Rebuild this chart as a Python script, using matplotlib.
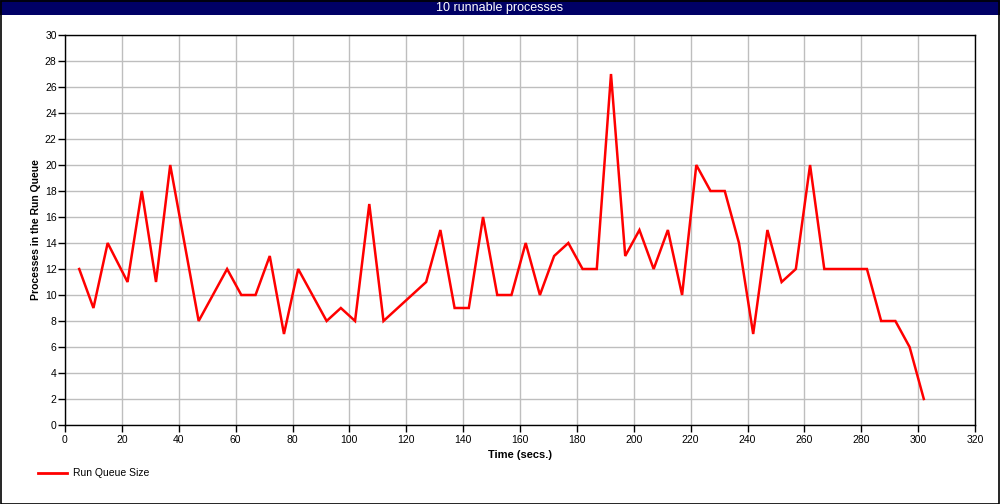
import matplotlib
matplotlib.use("Agg")
import matplotlib.pyplot as plt
from matplotlib.patches import Rectangle
from matplotlib.lines import Line2D

title = "10 runnable processes"
x_label = "Time (secs.)"
y_label = "Processes in the Run Queue"
series_name = "Run Queue Size"

time_s = [5, 10, 15, 22, 27, 32, 37, 47, 57, 62, 67, 72, 77, 82, 92, 97, 102,
          107, 112, 127, 132, 137, 142, 147, 152, 157, 162, 167, 172, 177, 182,
          187, 192, 197, 202, 207, 212, 217, 222, 227, 232, 237, 242, 247, 252,
          257, 262, 267, 272, 277, 282, 287, 292, 297, 302]
run_queue = [12, 9, 14, 11, 18, 11, 20, 8, 12, 10, 10, 13, 7, 12, 8, 9, 8,
             17, 8, 11, 15, 9, 9, 16, 10, 10, 14, 10, 13, 14, 12,
             12, 27, 13, 15, 12, 15, 10, 20, 18, 18, 14, 7, 15, 11,
             12, 20, 12, 12, 12, 12, 8, 8, 6, 2]

x_ticks = list(range(0, 321, 20))
y_ticks = list(range(0, 31, 2))

plt.rcParams['font.family'] = ['Liberation Sans', 'DejaVu Sans']

W, H = 1000, 504
fig = plt.figure(figsize=(W / 100, H / 100), dpi=100)
fig.patch.set_facecolor('white')

# title bar
fig.patches.append(Rectangle((0, 1 - 15 / H), 1, 15 / H, transform=fig.transFigure,
                             facecolor='#000066', edgecolor='none', zorder=0))
fig.text(0.5, 1 - 7.5 / H, title, color='white', ha='center', va='center', fontsize=9)
# outer border
fig.patches.append(Rectangle((0.5 / W, 0.5 / H), 1 - 1.5 / W, 1 - 1.5 / H, transform=fig.transFigure,
                             facecolor='none', edgecolor='black', linewidth=1.2, zorder=5))

ax = fig.add_axes([65 / W, 1 - 425 / H, 910 / W, 390 / H])
ax.plot(time_s, run_queue, color='#ff0000', linewidth=1.8, solid_joinstyle='miter')
ax.set_xlim(0, 320)
ax.set_ylim(0, 30)
ax.set_xticks(x_ticks)
ax.set_yticks(y_ticks)
ax.grid(True, color='#bebebe', linewidth=1)
ax.set_axisbelow(True)
ax.tick_params(direction='out', length=5, width=1, labelsize=7.5, color='black')
ax.tick_params(axis='y', pad=1)
ax.tick_params(axis='x', pad=2)
for s in ax.spines.values():
    s.set_color('black')
    s.set_linewidth(1)
ax.set_xlabel(x_label, fontsize=8, fontweight='bold', labelpad=4)
ax.set_ylabel(y_label, fontsize=7.5, fontweight='bold', labelpad=3)

# legend
fig.lines.append(Line2D([38 / W, 67 / W], [1 - 473 / H, 1 - 473 / H], transform=fig.transFigure,
                        color='#ff0000', linewidth=2))
fig.text(73 / W, 1 - 473 / H, series_name, fontsize=7.5, va='center', ha='left')

fig.savefig('out.png', dpi=100)
